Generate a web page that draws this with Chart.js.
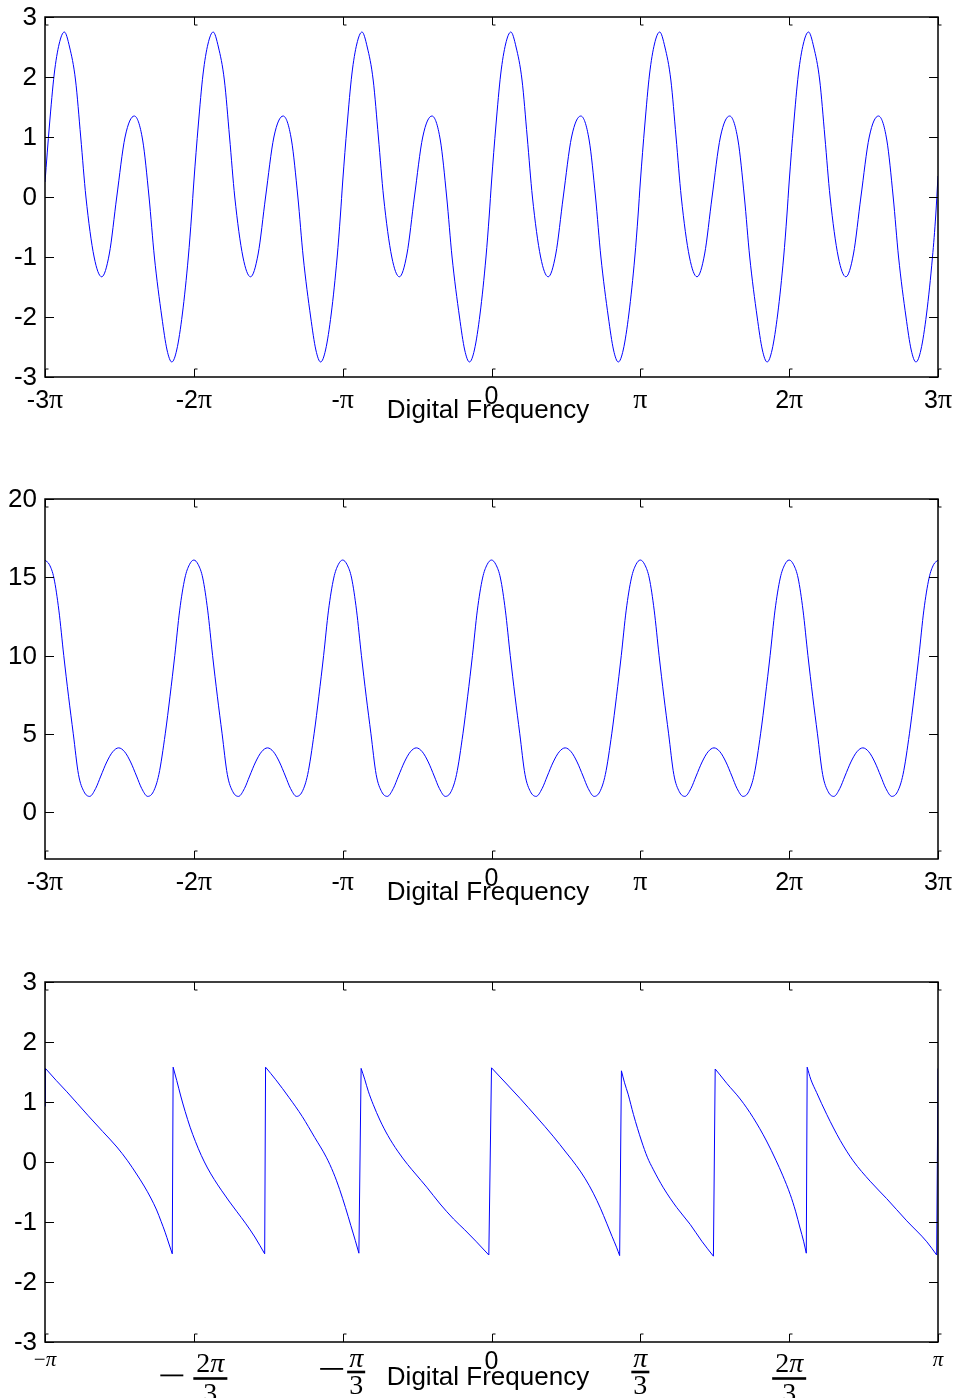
<!DOCTYPE html>
<html><head><meta charset="utf-8">
<script src="https://cdn.jsdelivr.net/npm/chart.js@4.4.1/dist/chart.umd.min.js"></script>
<style>
html,body{margin:0;padding:0;background:#fff;}
#wrap{position:relative;width:956px;height:1398px;overflow:hidden;background:#fff;}
canvas{position:absolute;left:0;}
</style></head><body>
<div id="wrap">
<canvas id="c1" width="956" height="480" style="top:0px"></canvas>
<canvas id="c2" width="956" height="480" style="top:480px"></canvas>
<canvas id="c3" width="956" height="438" style="top:960px"></canvas>
</div>
<script>
// ---------- DATA (x in units of pi) ----------
const topX = [
-3, -2.97, -2.938, -2.905, -2.87, -2.835, -2.795, -2.76, -2.725, -2.67, -2.619, -2.568, -2.518, -2.462, -2.4, -2.344, -2.301, -2.265, -2.215, -2.18, -2.148, -2.115, -2.077, -2.037, -2.015,
-2, -1.97, -1.938, -1.905, -1.87, -1.835, -1.795, -1.76, -1.725, -1.67, -1.619, -1.568, -1.518, -1.462, -1.4, -1.344, -1.301, -1.265, -1.215, -1.18, -1.148, -1.115, -1.077, -1.037, -1.015,
-1, -0.97, -0.938, -0.905, -0.87, -0.835, -0.795, -0.76, -0.725, -0.67, -0.619, -0.568, -0.518, -0.462, -0.4, -0.344, -0.301, -0.265, -0.215, -0.18, -0.148, -0.115, -0.077, -0.037, -0.015,
0, 0.03, 0.062, 0.095, 0.13, 0.165, 0.205, 0.24, 0.275, 0.33, 0.381, 0.432, 0.482, 0.538, 0.6, 0.656, 0.699, 0.735, 0.785, 0.82, 0.852, 0.885, 0.923, 0.963, 0.985,
1, 1.03, 1.062, 1.095, 1.13, 1.165, 1.205, 1.24, 1.275, 1.33, 1.381, 1.432, 1.482, 1.538, 1.6, 1.656, 1.699, 1.735, 1.785, 1.82, 1.852, 1.885, 1.923, 1.963, 1.985,
2, 2.03, 2.062, 2.095, 2.13, 2.165, 2.205, 2.24, 2.275, 2.33, 2.381, 2.432, 2.482, 2.538, 2.6, 2.656, 2.699, 2.735, 2.785, 2.82, 2.852, 2.885, 2.923, 2.963, 2.985,
3];
const topY = [
0.25, 1.2, 2.05, 2.55, 2.75, 2.5, 1.95, 1.0, 0.0, -1.0, -1.33, -0.95, 0.0, 1.0, 1.35, 0.95, 0.0, -1.0, -2.0, -2.55, -2.75, -2.55, -1.95, -1.0, -0.3,
0.25, 1.2, 2.05, 2.55, 2.75, 2.5, 1.95, 1.0, 0.0, -1.0, -1.33, -0.95, 0.0, 1.0, 1.35, 0.95, 0.0, -1.0, -2.0, -2.55, -2.75, -2.55, -1.95, -1.0, -0.3,
0.25, 1.2, 2.05, 2.55, 2.75, 2.5, 1.95, 1.0, 0.0, -1.0, -1.33, -0.95, 0.0, 1.0, 1.35, 0.95, 0.0, -1.0, -2.0, -2.55, -2.75, -2.55, -1.95, -1.0, -0.3,
0.25, 1.2, 2.05, 2.55, 2.75, 2.5, 1.95, 1.0, 0.0, -1.0, -1.33, -0.95, 0.0, 1.0, 1.35, 0.95, 0.0, -1.0, -2.0, -2.55, -2.75, -2.55, -1.95, -1.0, -0.3,
0.25, 1.2, 2.05, 2.55, 2.75, 2.5, 1.95, 1.0, 0.0, -1.0, -1.33, -0.95, 0.0, 1.0, 1.35, 0.95, 0.0, -1.0, -2.0, -2.55, -2.75, -2.55, -1.95, -1.0, -0.3,
0.25, 1.2, 2.05, 2.55, 2.75, 2.5, 1.95, 1.0, 0.0, -1.0, -1.33, -0.95, 0.0, 1.0, 1.35, 0.95, 0.0, -1.0, -2.0, -2.55, -2.75, -2.55, -1.95, -1.0, -0.3,
0.35];

const midX = [
-3, -2.97, -2.94, -2.907, -2.874, -2.842, -2.81, -2.775, -2.738, -2.7, -2.66, -2.625, -2.585, -2.545, -2.505, -2.465, -2.425, -2.385, -2.35, -2.31, -2.272, -2.235, -2.192, -2.16, -2.128, -2.095, -2.06, -2.03,
-2, -1.97, -1.94, -1.907, -1.874, -1.842, -1.81, -1.775, -1.738, -1.7, -1.66, -1.625, -1.585, -1.545, -1.505, -1.465, -1.425, -1.385, -1.35, -1.31, -1.272, -1.235, -1.192, -1.16, -1.128, -1.095, -1.06, -1.03,
-1, -0.97, -0.94, -0.907, -0.874, -0.842, -0.81, -0.775, -0.738, -0.7, -0.66, -0.625, -0.585, -0.545, -0.505, -0.465, -0.425, -0.385, -0.35, -0.31, -0.272, -0.235, -0.192, -0.16, -0.128, -0.095, -0.06, -0.03,
0, 0.03, 0.06, 0.093, 0.126, 0.158, 0.19, 0.225, 0.262, 0.3, 0.34, 0.375, 0.415, 0.455, 0.495, 0.535, 0.575, 0.615, 0.65, 0.69, 0.728, 0.765, 0.808, 0.84, 0.872, 0.905, 0.94, 0.97,
1, 1.03, 1.06, 1.093, 1.126, 1.158, 1.19, 1.225, 1.262, 1.3, 1.34, 1.375, 1.415, 1.455, 1.495, 1.535, 1.575, 1.615, 1.65, 1.69, 1.728, 1.765, 1.808, 1.84, 1.872, 1.905, 1.94, 1.97,
2, 2.03, 2.06, 2.093, 2.126, 2.158, 2.19, 2.225, 2.262, 2.3, 2.34, 2.375, 2.415, 2.455, 2.495, 2.535, 2.575, 2.615, 2.65, 2.69, 2.728, 2.765, 2.808, 2.84, 2.872, 2.905, 2.94, 2.97,
3];
const midY = [
16.1, 15.8, 14.95, 12.9, 10.0, 7.4, 5.0, 2.4, 1.3, 1.0, 1.5, 2.3, 3.2, 3.85, 4.1, 3.85, 3.2, 2.3, 1.5, 1.0, 1.3, 2.4, 5.0, 7.4, 10.0, 12.9, 14.95, 15.8,
16.1, 15.8, 14.95, 12.9, 10.0, 7.4, 5.0, 2.4, 1.3, 1.0, 1.5, 2.3, 3.2, 3.85, 4.1, 3.85, 3.2, 2.3, 1.5, 1.0, 1.3, 2.4, 5.0, 7.4, 10.0, 12.9, 14.95, 15.8,
16.1, 15.8, 14.95, 12.9, 10.0, 7.4, 5.0, 2.4, 1.3, 1.0, 1.5, 2.3, 3.2, 3.85, 4.1, 3.85, 3.2, 2.3, 1.5, 1.0, 1.3, 2.4, 5.0, 7.4, 10.0, 12.9, 14.95, 15.8,
16.1, 15.8, 14.95, 12.9, 10.0, 7.4, 5.0, 2.4, 1.3, 1.0, 1.5, 2.3, 3.2, 3.85, 4.1, 3.85, 3.2, 2.3, 1.5, 1.0, 1.3, 2.4, 5.0, 7.4, 10.0, 12.9, 14.95, 15.8,
16.1, 15.8, 14.95, 12.9, 10.0, 7.4, 5.0, 2.4, 1.3, 1.0, 1.5, 2.3, 3.2, 3.85, 4.1, 3.85, 3.2, 2.3, 1.5, 1.0, 1.3, 2.4, 5.0, 7.4, 10.0, 12.9, 14.95, 15.8,
16.1, 15.8, 14.95, 12.9, 10.0, 7.4, 5.0, 2.4, 1.3, 1.0, 1.5, 2.3, 3.2, 3.85, 4.1, 3.85, 3.2, 2.3, 1.5, 1.0, 1.3, 2.4, 5.0, 7.4, 10.0, 12.9, 14.95, 15.8,
16.1];

const botX = [
-1.000, -0.999, -0.975, -0.951, -0.927, -0.903, -0.871, -0.839, -0.815, -0.795, -0.778, -0.763, -0.750, -0.740, -0.731, -0.723, -0.715,
-0.713, -0.705, -0.696, -0.686, -0.675, -0.663, -0.650, -0.636, -0.621, -0.605, -0.588, -0.570, -0.551, -0.530, -0.508,
-0.506, -0.483, -0.453, -0.424, -0.396, -0.370, -0.354, -0.340, -0.327, -0.315, -0.305, -0.297,
-0.292, -0.284, -0.276, -0.265, -0.250, -0.232, -0.210, -0.188, -0.170, -0.145, -0.115, -0.085, -0.060, -0.035, -0.006,
0.000, 0.034, 0.064, 0.101, 0.138, 0.168, 0.190, 0.210, 0.228, 0.244, 0.258, 0.270, 0.280, 0.287,
0.291, 0.298, 0.306, 0.318, 0.336, 0.349, 0.362, 0.385, 0.415, 0.445, 0.471, 0.497,
0.501, 0.512, 0.527, 0.557, 0.586, 0.616, 0.637, 0.652, 0.669, 0.681, 0.691, 0.699, 0.705,
0.707, 0.715, 0.728, 0.751, 0.781, 0.810, 0.848, 0.885, 0.930, 0.975, 0.997,
1.000];
const botY = [
0.93, 1.56, 1.36, 1.17, 0.97, 0.77, 0.51, 0.25, 0.02, -0.20, -0.40, -0.60, -0.80, -0.99, -1.17, -1.35, -1.53,
1.58, 1.36, 1.10, 0.84, 0.58, 0.34, 0.11, -0.10, -0.29, -0.47, -0.65, -0.83, -1.02, -1.25, -1.53,
1.58, 1.37, 1.07, 0.76, 0.41, 0.08, -0.18, -0.46, -0.76, -1.06, -1.31, -1.52,
1.56, 1.38, 1.18, 0.96, 0.70, 0.44, 0.18, -0.04, -0.20, -0.42, -0.70, -0.95, -1.13, -1.32, -1.55,
1.57, 1.30, 1.06, 0.75, 0.43, 0.15, -0.06, -0.28, -0.52, -0.77, -1.02, -1.24, -1.42, -1.56,
1.52, 1.32, 1.13, 0.79, 0.35, 0.08, -0.12, -0.43, -0.76, -1.04, -1.32, -1.57,
1.55, 1.45, 1.31, 1.05, 0.74, 0.35, 0.03, -0.22, -0.54, -0.82, -1.10, -1.32, -1.52,
1.58, 1.38, 1.16, 0.79, 0.36, 0.02, -0.32, -0.61, -0.98, -1.33, -1.55,
1.56];

// ticks / labels
const topYTicks = [-3, -2, -1, 0, 1, 2, 3];
const midYTicks = [0, 5, 10, 15, 20];
const botYTicks = [-3, -2, -1, 0, 1, 2, 3];
const piTickValues = [-3, -2, -1, 0, 1, 2, 3];
const piTickLabels = ['-3π', '-2π', '-π', '0', 'π', '2π', '3π'];
const fracTickValues = [-1, -2/3, -1/3, 0, 1/3, 2/3, 1];
const fracTickLabels = ['−π', '−2π/3', '−π/3', '0', 'π/3', '2π/3', 'π'];
const xTitle = 'Digital Frequency';

// ---------- drawing helpers ----------
const SANS = '"Liberation Sans", Arial, Helvetica, sans-serif';
const SERIF = '"Liberation Serif", "Times New Roman", serif';

function seg(ctx, x1, y1, x2, y2) { ctx.beginPath(); ctx.moveTo(x1, y1); ctx.lineTo(x2, y2); ctx.stroke(); }

function drawPiLabels(ctx, a, xs) {
  piTickValues.forEach((v, i) => {
    const cx = xs.getPixelForValue(v);
    const lab = piTickLabels[i];
    if (!lab.includes('π')) {
      ctx.font = '25px ' + SANS; ctx.textAlign = 'center';
      ctx.fillText(lab, cx, a.bottom + 27);
      return;
    }
    const pre = lab.replace('π', '');
    ctx.font = '25px ' + SANS; const w1 = ctx.measureText(pre).width;
    ctx.font = '28px ' + SERIF; const w2 = ctx.measureText('π').width;
    const x0 = cx - (w1 + w2) / 2;
    ctx.textAlign = 'left';
    ctx.font = '25px ' + SANS; ctx.fillText(pre, x0, a.bottom + 31);
    ctx.font = '28px ' + SERIF; ctx.fillText('π', x0 + w1, a.bottom + 31);
  });
}

function drawFracLabels(ctx, a, xs) {
  fracTickValues.forEach((v, i) => {
    const cx = xs.getPixelForValue(v);
    const lab = fracTickLabels[i];
    const neg = lab.startsWith('−');
    const body = neg ? lab.slice(1) : lab;
    if (body === '0') {
      ctx.font = '25px ' + SANS; ctx.textAlign = 'center';
      ctx.fillText('0', cx, a.bottom + 27);
      return;
    }
    if (!body.includes('/')) {
      ctx.font = '21px ' + SERIF; const wm = neg ? ctx.measureText('−').width : 0;
      ctx.font = 'italic 21px ' + SERIF; const wp = ctx.measureText('π').width;
      const x0 = cx - (wm + wp) / 2;
      ctx.textAlign = 'left';
      if (neg) { ctx.font = '21px ' + SERIF; ctx.fillText('−', x0, a.bottom + 24); }
      ctx.font = 'italic 21px ' + SERIF; ctx.fillText('π', x0 + wm, a.bottom + 24);
      return;
    }
    const parts = body.split('/');
    const coef = parts[0].replace('π', '');
    const den = parts[1];
    ctx.font = '28px ' + SERIF; const wc = ctx.measureText(coef).width;
    ctx.font = 'italic 28px ' + SERIF; const wp = ctx.measureText('π').width;
    const numW = wc + wp;
    ctx.font = '28px ' + SERIF; const denW = ctx.measureText(den).width;
    const fracW = Math.max(numW, denW) + (coef ? 6 : 4);
    const minusW = 23, gap = coef ? 10 : 4;
    const total = (neg ? minusW + gap : 0) + fracW;
    let x0 = cx - total / 2;
    const numBase = a.bottom + (coef ? 30 : 25);
    const bar = numBase + (coef ? 6.5 : 5);
    const denBase = bar + (coef ? 23.5 : 21.5);
    if (neg) { ctx.fillRect(x0, bar - 4, minusW, 1.8); x0 += minusW + gap; }
    const fc = x0 + fracW / 2;
    const nx = fc - numW / 2;
    ctx.textAlign = 'left';
    ctx.font = '28px ' + SERIF; ctx.fillText(coef, nx, numBase);
    ctx.font = 'italic 28px ' + SERIF; ctx.fillText('π', nx + wc, numBase);
    ctx.fillRect(x0, bar - 1.3, fracW, 2.6);
    ctx.font = '28px ' + SERIF; ctx.textAlign = 'center';
    ctx.fillText(den, fc, denBase);
  });
}

function makeFrame(cfg) {
  return {
    id: 'frame_' + cfg.name,
    afterDraw(chart) {
      const ctx = chart.ctx, a = chart.chartArea, xs = chart.scales.x, ys = chart.scales.y;
      ctx.save();
      ctx.strokeStyle = '#000'; ctx.fillStyle = '#000'; ctx.lineWidth = 1;
      cfg.yTicks.forEach(v => {
        const py = Math.round(ys.getPixelForValue(v)) + 0.5;
        seg(ctx, a.left, py, a.left + 9, py);
        seg(ctx, a.right - 9, py, a.right, py);
      });
      cfg.xTicks.forEach(v => {
        const px = Math.round(xs.getPixelForValue(v)) + 0.5;
        seg(ctx, px, a.bottom, px, a.bottom - 8); seg(ctx, px, a.bottom - 8, px + 3, a.bottom - 8);
        seg(ctx, px, a.top, px, a.top + 8); seg(ctx, px, a.top + 8, px + 3, a.top + 8);
      });
      ctx.lineWidth = 1.5;
      ctx.strokeRect(a.left, a.top, a.right - a.left, a.bottom - a.top);
      ctx.font = '26px ' + SANS; ctx.textAlign = 'right'; ctx.textBaseline = 'middle';
      cfg.yTicks.forEach(v => ctx.fillText(String(v), a.left - 8, ys.getPixelForValue(v) + 1));
      ctx.textBaseline = 'alphabetic';
      cfg.xLabels(ctx, a, xs);
      ctx.font = '26px ' + SANS; ctx.textAlign = 'center';
      ctx.fillText(xTitle, 488, a.bottom + cfg.titleGap);
      ctx.restore();
    }
  };
}

function pts(xa, ya) { return xa.map((x, i) => ({ x: x, y: ya[i] })); }

// smooth pieces between the phase jumps, straight vertical jump lines
function phaseDatasets(xa, ya) {
  const sets = [];
  const jumps = [];
  let cur = [{ x: xa[0], y: ya[0] }];
  for (let i = 1; i < xa.length; i++) {
    if (ya[i] - ya[i - 1] > 0.5) {
      sets.push(cur);
      jumps.push({ x: xa[i - 1], y: ya[i - 1] }, { x: xa[i], y: ya[i] }, { x: xa[i], y: null });
      cur = [];
    }
    cur.push({ x: xa[i], y: ya[i] });
  }
  sets.push(cur);
  const ds = sets.filter(s => s.length > 1).map(s => ({
    data: s, borderColor: '#0000ff', borderWidth: 1, pointRadius: 0, fill: false,
    cubicInterpolationMode: 'monotone'
  }));
  ds.push({ data: jumps, borderColor: '#0000ff', borderWidth: 1, pointRadius: 0, fill: false, tension: 0, spanGaps: false });
  return ds;
}

function build(id, datasets, xmin, xmax, ymin, ymax, pad, frameCfg) {
  return new Chart(document.getElementById(id), {
    type: 'line',
    data: { datasets: datasets },
    options: {
      responsive: false, animation: false, devicePixelRatio: 1,
      layout: { padding: pad },
      plugins: { legend: { display: false }, tooltip: { enabled: false }, title: { display: false } },
      scales: {
        x: { type: 'linear', min: xmin, max: xmax, display: false },
        y: { type: 'linear', min: ymin, max: ymax, display: false }
      }
    },
    plugins: [makeFrame(frameCfg)]
  });
}

function smoothSet(xa, ya) {
  return [{ data: pts(xa, ya), borderColor: '#0000ff', borderWidth: 1, pointRadius: 0, fill: false, cubicInterpolationMode: 'monotone' }];
}

build('c1', smoothSet(topX, topY), -3, 3, -3, 3, { left: 45, right: 18, top: 17, bottom: 103 },
  { name: 'top', yTicks: topYTicks, xTicks: piTickValues, xLabels: drawPiLabels, titleGap: 41 });
build('c2', smoothSet(midX, midY), -3, 3, -3, 20, { left: 45, right: 18, top: 19, bottom: 101 },
  { name: 'mid', yTicks: midYTicks, xTicks: piTickValues, xLabels: drawPiLabels, titleGap: 41 });
build('c3', phaseDatasets(botX, botY), -1, 1, -3, 3, { left: 45, right: 18, top: 22, bottom: 56 },
  { name: 'bot', yTicks: botYTicks, xTicks: fracTickValues, xLabels: drawFracLabels, titleGap: 43 });
</script>
</body></html>
